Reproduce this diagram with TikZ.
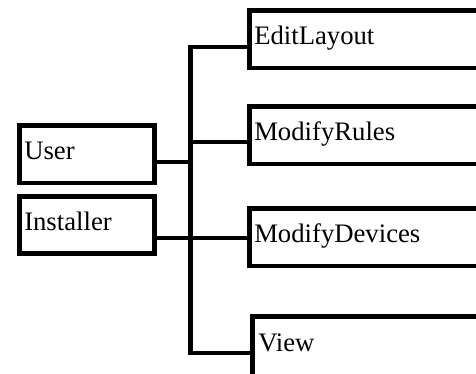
\documentclass[tikz,border=0pt]{standalone}
\usepackage{fontspec}
\setmainfont{Liberation Serif}
\usetikzlibrary{calc}
\begin{document}
\begin{tikzpicture}[x=1pt,y=1pt,
  line width=4.5pt,
  every node/.style={font=\fontsize{26.7}{32}\selectfont},
  rolebox/.style={draw, anchor=north west, align=left, inner ysep=0pt,
    inner xsep=5pt, text height=34pt, text depth=23.5pt, text width=125pt},
  actbox/.style={rolebox, text width=220.5pt},
  wire/.style={line join=miter}]
\useasboundingbox (0,0) rectangle (476,-373);
\clip (0,0) rectangle (476,-373);

% actors on the left
\node[rolebox] (user) at (17,-123) {User};
\node[rolebox, text depth=23pt] (inst) at (17,-194) {Installer};

% use cases on the right
\node[actbox] (edit) at (247,-8) {EditLayout};
\node[actbox] (rules) at (247,-104) {ModifyRules};
\node[actbox] (devices) at (247,-206) {ModifyDevices};
\node[actbox, inner xsep=6pt, text width=215.5pt, text height=35pt,
      text depth=25.5pt] (view) at (250,-314) {View};

% joints on the trunk line
\coordinate (trunktop) at (190.5,-47);
\coordinate (trunkbot) at (190.5,-353);
\coordinate (ujoin) at (190.5,-162);
\coordinate (rjoin) at (190.5,-142);
\coordinate (ijoin) at (190.5,-238);

% trunk with its top and bottom branches
\draw[wire] (trunktop -| edit.west) -- (trunktop) -- (trunkbot)
  -- (trunkbot -| view.west);
% remaining branches
\draw[wire] (ujoin -| user.east) -- (ujoin);
\draw[wire] (rjoin) -- (rjoin -| rules.west);
\draw[wire] (ijoin -| inst.east) -- (ijoin -| devices.west);
\end{tikzpicture}
\end{document}
